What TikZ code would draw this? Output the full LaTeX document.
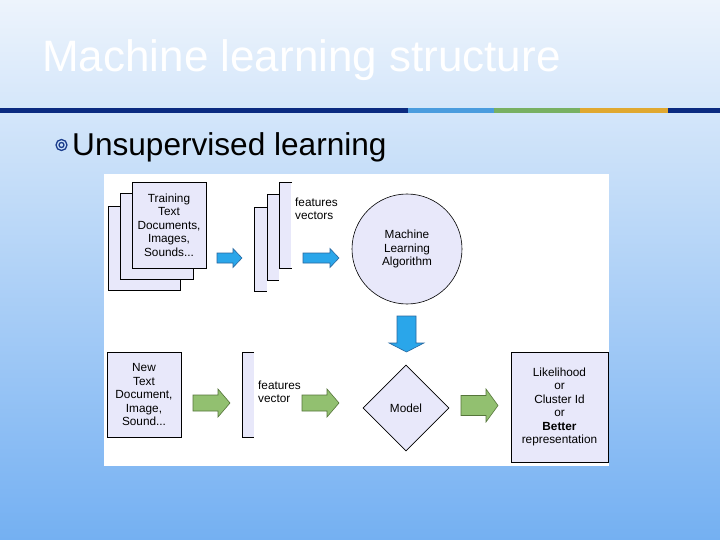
\documentclass[tikz,border=0pt]{standalone}
\usepackage{fontspec}
\setmainfont{Liberation Sans}
\usetikzlibrary{shapes.geometric}
\definecolor{bgtop}{HTML}{EDF4FC}
\definecolor{bgmid}{HTML}{B4D2F6}
\definecolor{bgbot}{HTML}{74B0F2}
\definecolor{darkstripe}{HTML}{0B2A80}
\definecolor{bluestripe}{HTML}{4A9CDE}
\definecolor{greenstripe}{HTML}{78B062}
\definecolor{orangestripe}{HTML}{E0A830}
\definecolor{lav}{HTML}{E8E8FA}
\definecolor{bluefill}{HTML}{2AA6EA}
\definecolor{blueline}{HTML}{2868A0}
\definecolor{greenfill}{HTML}{92C070}
\definecolor{greenline}{HTML}{55753A}
\definecolor{bulletblue}{HTML}{1A3C8C}
\newcommand\rarr[7]{\filldraw[#1] (#2,#4-#5) -- (#3-#7,#4-#5) -- (#3-#7,#4-#6) -- (#3,#4) -- (#3-#7,#4+#6) -- (#3-#7,#4+#5) -- (#2,#4+#5) -- cycle;}
\begin{document}
\begin{tikzpicture}[x=1pt,y=-1pt,
  box/.style={draw=black,line width=0.6pt,fill=lav},
  lbl/.style={align=center,font=\fontsize{11.8}{13.5}\selectfont,inner sep=0pt},
  lbll/.style={align=left,font=\fontsize{11.8}{12.5}\selectfont,inner sep=0pt},
  barrow/.style={fill=bluefill,draw=blueline,line width=0.6pt},
  garrow/.style={fill=greenfill,draw=greenline,line width=0.6pt}]
\useasboundingbox (0,0) rectangle (720,540);
\shade[top color=bgtop,middle color=bgmid,bottom color=bgbot] (0,0) rectangle (720,540);
% title
\node[anchor=base west,inner sep=0pt,text=white,font=\fontsize{44}{48}\selectfont] (title) at (42,72) {Machine learning structure};
% stripe
\fill[darkstripe] (0,108) rectangle (408,113.5);
\fill[bluestripe] (408,108) rectangle (494,113.5);
\fill[greenstripe] (494,108) rectangle (580,113.5);
\fill[orangestripe] (580,108) rectangle (668,113.5);
\fill[darkstripe] (668,108) rectangle (720,113.5);
% bullet
\draw[bulletblue,line width=1.3pt] (61.5,145) circle (5.5);
\draw[bulletblue,line width=1.3pt] (61.5,145) circle (2.5);
\node[anchor=base west,inner sep=0pt,font=\fontsize{31.6}{35}\selectfont] (sub) at (72,156) {Unsupervised learning};
% diagram panel
\fill[white] (104,174) rectangle (609,466);
% training docs stack
\draw[box] (108,206) rectangle (180,290);
\draw[box] (120,193) rectangle (193,279);
\node[box,minimum width=74pt,minimum height=86pt,inner sep=0pt] (train) at (169,225) {};
\node[lbl] (traintxt) at (train.center) {Training\\Text\\Documents,\\Images,\\Sounds...};
% arrow 1
\rarr{barrow}{217}{242}{258}{5}{9.5}{9}
% feature vectors stack
\fill[lav] (254,207) rectangle (267,291);
\draw[line width=0.6pt] (267,207) -- (254,207) -- (254,291) -- (267,291);
\fill[lav] (267,194) rectangle (279,280);
\draw[line width=0.6pt] (279,194) -- (267,194) -- (267,280) -- (279,280);
\fill[lav] (279,182) rectangle (291,268);
\draw[line width=0.6pt] (292,182) -- (279,182) -- (279,268) -- (292,268);
\node[lbll,anchor=north west] (fvs) at (295,198) {features\\vectors};
% arrow 2
\rarr{barrow}{303}{339}{258}{5}{9.5}{9}
% ML algorithm circle
\node[circle,box,minimum size=110pt,inner sep=0pt] (mla) at (407,249) {};
\node[lbl] (mlatxt) at (mla.center) {Machine\\Learning\\Algorithm};
% down arrow
\filldraw[barrow] (397,316) -- (416,316) -- (416,343) -- (424,343) -- (406.5,352) -- (389,343) -- (397,343) -- cycle;
% new doc
\node[box,minimum width=74pt,minimum height=85pt,inner sep=0pt] (newdoc) at (144,394.5) {};
\node[lbl] (newtxt) at (newdoc.center) {New\\Text\\Document,\\Image,\\Sound...};
\rarr{garrow}{193}{230}{403}{8}{14}{12}
% feature vector
\fill[lav] (242,352) rectangle (254,437);
\draw[line width=0.6pt] (254,352) -- (242,352) -- (242,437) -- (254,437);
\node[lbll,anchor=north west] (fv) at (258,381) {features\\vector};
\rarr{garrow}{302}{339}{403}{8}{14}{12}
% model diamond
\node[diamond,box,minimum width=86pt,minimum height=86pt,inner sep=0pt] (model) at (406,408) {};
\node[lbl] (modeltxt) at (model.center) {Model};
\rarr{garrow}{461}{498}{405.5}{10}{16.5}{12}
% output
\node[box,minimum width=97pt,minimum height=110pt,inner sep=0pt] (out) at (559.5,407) {};
\node[lbl] (outtxt) at (out.center) {Likelihood\\or\\Cluster Id\\or\\\textbf{Better}\\representation};
\end{tikzpicture}
\end{document}
